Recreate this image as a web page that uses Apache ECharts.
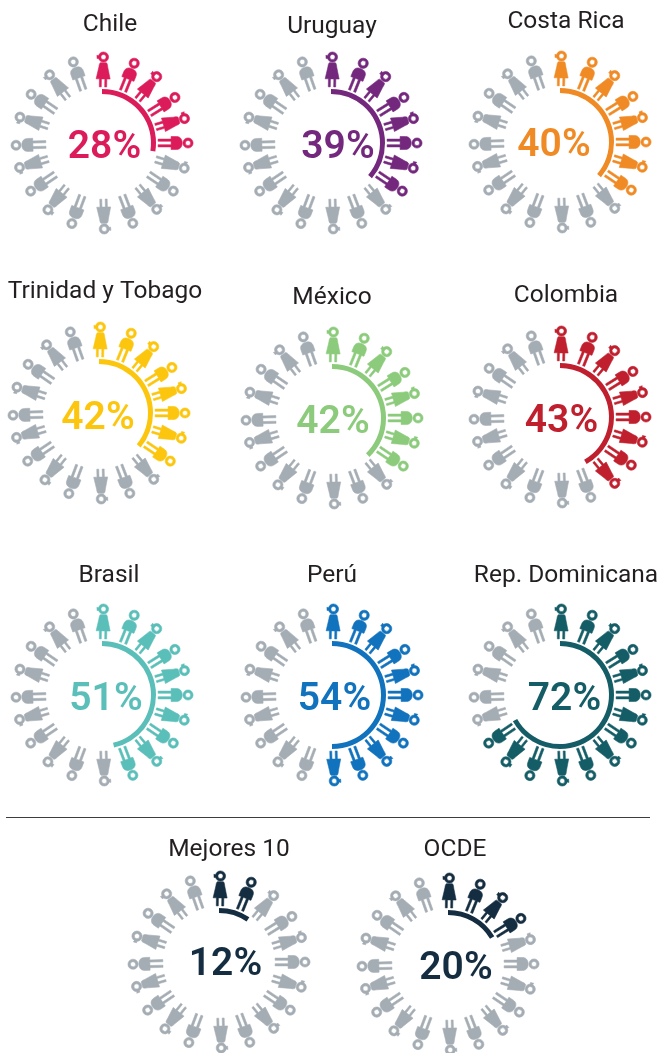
<!DOCTYPE html>
<html>
<head>
<meta charset="utf-8">
<style>
  html, body { margin: 0; padding: 0; background: #fff; }
  #chart { width: 660px; height: 1053px; }
</style>
</head>
<body>
<div id="chart"></div>
<script src="https://cdn.jsdelivr.net/npm/echarts@6/dist/echarts.min.js"></script>
<script>
// 数据
var countries = ['Chile', 'Uruguay', 'Costa Rica', 'Trinidad y Tobago', 'México', 'Colombia', 'Brasil', 'Perú', 'Rep. Dominicana', 'Mejores 10', 'OCDE'];
var percents = [28, 39, 40, 42, 42, 43, 51, 54, 72, 12, 20];
// 圆弧实际画到的位置(图上量的，比标注的百分比短一点)
var arcValues = [27.5, 36.3, 36.3, 36, 37.8, 41.8, 46.4, 50, 66.9, 9.5, 16.4];
// 每个圆环里上色的小人个数
var filledFigures = [6, 8, 8, 8, 8, 9, 10, 11, 14, 2, 4];
// 20 个小人所在的角度(图上量的，从正上方顺时针)
var figureAngles = [1, 22, 39.5, 58, 73.5, 90, 107, 124, 140.5, 159, 178.5, 200.5, 219, 236, 253.5, 268.5, 287.5, 304.5, 322.5, 340.5];

// 样式
var colors = ['#dc1c5a', '#74287d', '#f08a24', '#fcc60e', '#8ccb7c', '#c01f2e', '#5bbfb9', '#1172bd', '#155d66', '#142d40', '#142d40'];
var grey = '#a5adb4';
var centers = [[102, 143], [331, 143], [560, 142], [99, 413], [332, 418], [560, 417], [102, 695], [332, 695], [560, 695], [219, 962], [448, 964]];
var titlePos = [[110, 25], [332, 27], [566, 22], [105, 292], [332, 298], [566, 296], [109, 576], [332, 576], [566, 576], [229, 850], [455, 850]];
var labelPos = [[104.5, 146], [338, 146], [554, 144], [98, 417], [333, 421], [561.5, 420], [106, 698], [334.5, 698], [564.5, 698], [225.5, 963], [456, 967]];

// 小人图形，头朝上
var ring = function (cx, cy, r, rIn) {
    return 'M' + (cx - r) + ' ' + cy + 'a' + r + ' ' + r + ' 0 1 0 ' + (2 * r) + ' 0a' + r + ' ' + r + ' 0 1 0 ' + (-2 * r) + ' 0z' +
        'M' + (cx - rIn) + ' ' + cy + 'a' + rIn + ' ' + rIn + ' 0 1 1 ' + (2 * rIn) + ' 0a' + rIn + ' ' + rIn + ' 0 1 1 ' + (-2 * rIn) + ' 0z';
};
var girlPath = 'path://' + ring(7, 5.1, 5.1, 2.6) +
    'M2.8 4.4L0.4 3.4L0.6 6.8L3 6.2z' +
    'M4 10.8L10 10.8C11 11.8 11.2 13 11.4 15L14 27L10.7 27L10.7 35L8.7 35L8.7 27L5.3 27L5.3 35L3.3 35L3.3 27L0 27L2.6 15C2.8 13 3 11.8 4 10.8z';
var boyPath = 'path://' + ring(6.5, 5.1, 5.1, 2.6) +
    'M6.5 10.9C10.6 10.9 13 13.2 13 16.6L13 22L10.4 22L10.4 35L8.2 35L8.2 22L4.8 22L4.8 35L2.6 35L2.6 22L0 22L0 16.6C0 13.2 2.4 10.9 6.5 10.9z';

var myChart = echarts.init(document.getElementById('chart'));
var polar = [], angleAxis = [], radiusAxis = [], title = [], series = [];

countries.forEach(function (name, i) {
    title.push({
        text: name,
        left: titlePos[i][0],
        top: titlePos[i][1],
        textAlign: 'center',
        textVerticalAlign: 'middle',
        padding: 0,
        textStyle: { fontFamily: 'Roboto', fontWeight: 400, fontSize: 24.5, color: '#231f20' }
    });
    polar.push({ center: centers[i], radius: 92 });
    angleAxis.push({ polarIndex: i, type: 'value', min: 0, max: 360, startAngle: 90, show: false });
    radiusAxis.push({ polarIndex: i, type: 'value', min: 0, max: 1, show: false });

    // 一圈小人
    series.push({
        type: 'scatter',
        coordinateSystem: 'polar',
        polarIndex: i,
        silent: true,
        data: figureAngles.map(function (angle, slot) {
            var isGirl = slot % 2 === 0;
            var figureColor = slot < filledFigures[i] ? colors[i] : grey;
            return {
                value: [0.8, angle],
                symbol: isGirl ? girlPath : boyPath,
                symbolSize: isGirl ? [14, 35] : [13, 35],
                symbolRotate: -angle,
                // 描一点边，让小人粗一些
                itemStyle: { color: figureColor, borderColor: figureColor, borderWidth: 0.5, opacity: 1 }
            };
        })
    });

    // 圆弧和中间的百分比
    series.push({
        type: 'pie',
        center: centers[i],
        radius: [49, 54],
        startAngle: 90,
        silent: true,
        label: { show: false },
        labelLine: { show: false },
        emphasis: { disabled: true },
        data: [
            {
                value: arcValues[i],
                itemStyle: { color: colors[i] },
                label: {
                    show: true,
                    position: 'center',
                    formatter: percents[i] + '%',
                    offset: [labelPos[i][0] - centers[i][0], labelPos[i][1] - centers[i][1] + 2],
                    fontFamily: 'Roboto',
                    fontWeight: 600,
                    fontSize: 39,
                    color: colors[i]
                }
            },
            { value: 100 - arcValues[i], itemStyle: { color: 'rgba(0,0,0,0)' } }
        ]
    });
});

myChart.setOption({
    animation: false,
    title: title,
    polar: polar,
    angleAxis: angleAxis,
    radiusAxis: radiusAxis,
    series: series,
    // 分隔线
    graphic: [{
        type: 'line',
        silent: true,
        shape: { x1: 6, y1: 817.5, x2: 650, y2: 817.5 },
        style: { stroke: '#3c3c3c', lineWidth: 1 }
    }]
});
</script>
</body>
</html>
